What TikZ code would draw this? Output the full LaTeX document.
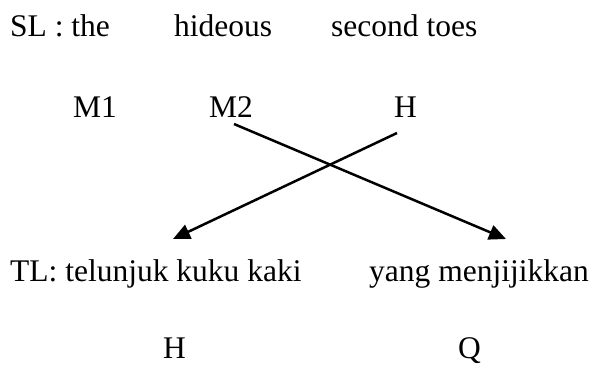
\documentclass[tikz,border=0pt]{standalone}
\usepackage{fontspec}
\setmainfont{Liberation Serif}
\usetikzlibrary{arrows.meta}
\begin{document}
\begin{tikzpicture}[x=1pt,y=-1pt,
  word/.style={anchor=base west,inner sep=0pt,font=\fontsize{31.5}{37}\selectfont},
  link/.style={line width=2.5pt,-{Triangle[length=17pt,width=15pt]}}]
\useasboundingbox (0,0) rectangle (593,367);
% source line
\node[word] (sl)  at (10,36)  {SL : the};
\node[word] (hid) at (174,36) {hideous};
\node[word] (sec) at (331,36) {second toes};
% source labels
\node[word] (m1)  at (73,117)  {M1};
\node[word] (m2)  at (209,117) {M2};
\node[word] (hs)  at (394,117) {H};
% target line
\node[word] (tl)  at (10,281)  {TL: telunjuk kuku kaki};
\node[word] (yang) at (369,281) {yang menjijikkan};
% target labels
\node[word] (ht)  at (163,358) {H};
\node[word] (q)   at (458,358) {Q};
% arrow ends
\coordinate (m2e) at (234,124);
\coordinate (hse) at (397,133);
\coordinate (tle) at (173,239);
\coordinate (ye)  at (506,239);
\draw[link] (m2e) -- (ye);
\draw[link] (hse) -- (tle);
\end{tikzpicture}
\end{document}
